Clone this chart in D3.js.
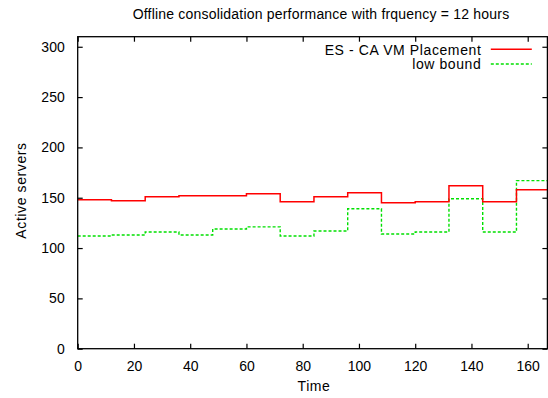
<!DOCTYPE html>
<html>
<head>
<meta charset="utf-8">
<script src="https://cdn.jsdelivr.net/npm/d3@7"></script>
<style>
  body { margin: 0; background: #fff; }
  svg { display: block; }
  text { font-family: "Liberation Sans", Arial, sans-serif; font-size: 14px; fill: #000; }
  .wide { letter-spacing: 0.6px; }
</style>
</head>
<body>
<div id="chart"></div>
<script>
// chart data (one value per 12 hour period)
var times = [0, 12, 24, 36, 48, 60, 72, 84, 96, 108, 120, 132, 144, 156];
var placement = [148, 147, 151, 152, 152, 154, 146, 151, 155, 145, 146, 162, 146, 158];
var lowBound = [112, 113, 116, 113, 119, 121, 112, 117, 139, 114, 116, 149, 116, 167];
var xTicks = [0, 20, 40, 60, 80, 100, 120, 140, 160];
var yTicks = [0, 50, 100, 150, 200, 250, 300];
var seriesNames = ['ES - CA VM Placement', 'low bound'];

var svgWidth = 548;
var svgHeight = 398;
var margins = { top: 36.7, right: 0.6, bottom: 49.3, left: 77.7 };
var width = svgWidth - margins.left - margins.right;
var height = svgHeight - margins.top - margins.bottom;

var svg = d3.select('#chart').append('svg')
	.attr('width', svgWidth)
	.attr('height', svgHeight);

var chart = svg.append('g').attr('transform', `translate(${margins.left}, ${margins.top})`);

var x = d3.scaleLinear().domain([0, 167]).range([0, width]);
var y = d3.scaleLinear().domain([0, 310]).range([height, 0]);

// clip so the last step stops at the border
chart.append('clipPath').attr('id', 'clip')
	.append('rect').attr('width', width).attr('height', height);

// each period lasts 12 hours, so add the end of the last one
function stepPoints(vals) {
	var pts = times.map((t, i) => [t, vals[i]]);
	pts.push([times[times.length - 1] + 12, vals[vals.length - 1]]);
	return pts;
}

var line = d3.line()
	.x(d => x(d[0]))
	.y(d => y(d[1]))
	.curve(d3.curveStepAfter);

chart.append('path')
	.datum(stepPoints(lowBound))
	.attr('clip-path', 'url(#clip)')
	.attr('fill', 'none')
	.attr('stroke', '#00e000')
	.attr('stroke-width', 1.4)
	.attr('stroke-dasharray', '3,2')
	.attr('d', line);

chart.append('path')
	.datum(stepPoints(placement))
	.attr('clip-path', 'url(#clip)')
	.attr('fill', 'none')
	.attr('stroke', '#f00')
	.attr('stroke-width', 1.5)
	.attr('d', line);

// axes with inward ticks, mirrored on top and right like gnuplot
var tickLen = 5;
chart.append('g')
	.attr('transform', `translate(0, ${height})`)
	.call(d3.axisBottom(x).tickValues(xTicks).tickSize(-tickLen).tickPadding(12))
	.call(g => g.select('.domain').remove());
chart.append('g')
	.call(d3.axisTop(x).tickValues(xTicks).tickSize(-tickLen).tickFormat(''))
	.call(g => g.select('.domain').remove());
chart.append('g')
	.call(d3.axisLeft(y).tickValues(yTicks).tickSize(-tickLen).tickPadding(13))
	.call(g => g.select('.domain').remove());
chart.append('g')
	.attr('transform', `translate(${width}, 0)`)
	.call(d3.axisRight(y).tickValues(yTicks).tickSize(-tickLen).tickFormat(''))
	.call(g => g.select('.domain').remove());

chart.selectAll('.tick line').attr('stroke', '#000').attr('stroke-width', 1.2);
chart.selectAll('.tick text')
	.style('font-family', '"Liberation Sans", Arial, sans-serif')
	.style('font-size', '14px')
	.attr('fill', '#000');

// border box
chart.append('rect')
	.attr('width', width)
	.attr('height', height)
	.attr('fill', 'none')
	.attr('stroke', '#000')
	.attr('stroke-width', 1.3);

// legend
var legend = chart.append('g').attr('transform', `translate(${width}, 0)`);
var legendColors = ['#f00', '#00e000'];
var legendDash = [null, '3,2'];
seriesNames.forEach(function(name, i) {
	var ly = 12.6 + i * 14.7;
	legend.append('text')
		.attr('class', 'wide')
		.attr('x', -66)
		.attr('y', ly + 5.5)
		.attr('text-anchor', 'end')
		.text(name);
	legend.append('line')
		.attr('x1', -56.6)
		.attr('x2', -15.6)
		.attr('y1', ly)
		.attr('y2', ly)
		.attr('stroke', legendColors[i])
		.attr('stroke-width', 1.4)
		.attr('stroke-dasharray', legendDash[i]);
});

// title and axis labels
svg.append('text')
	.attr('x', 321)
	.attr('y', 19)
	.attr('text-anchor', 'middle')
	.style('letter-spacing', '0.2px')
	.text('Offline consolidation performance with frquency = 12 hours');

svg.append('text')
	.attr('class', 'wide')
	.attr('x', 314)
	.attr('y', 391)
	.attr('text-anchor', 'middle')
	.text('Time');

svg.append('text')
	.attr('class', 'wide')
	.attr('transform', 'translate(25.5, 190.5) rotate(-90)')
	.attr('text-anchor', 'middle')
	.text('Active servers');
</script>
</body>
</html>
